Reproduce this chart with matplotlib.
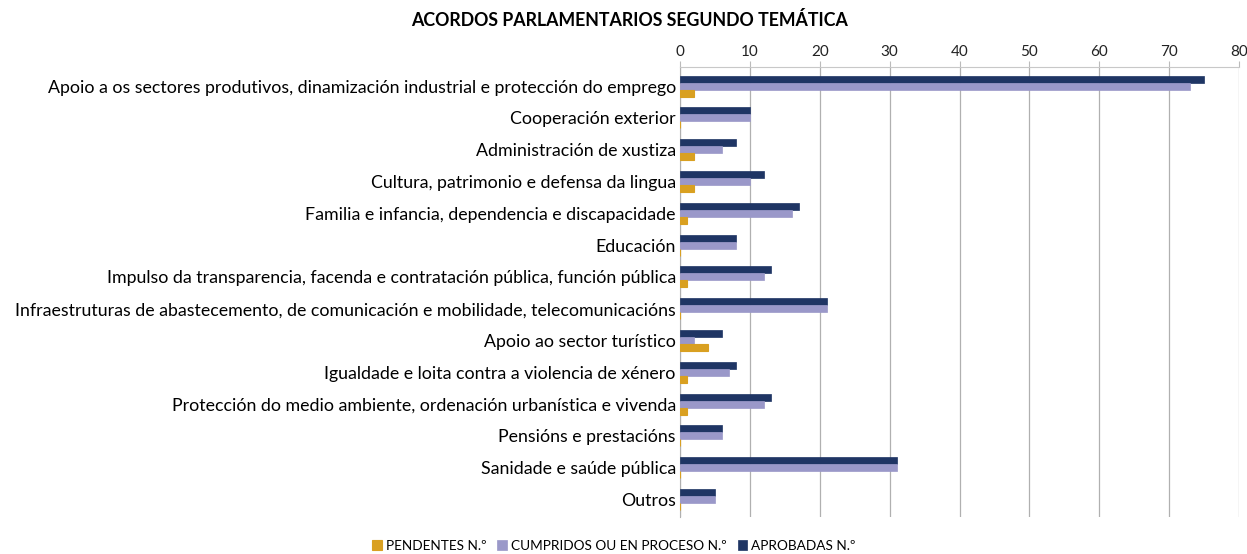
import matplotlib
matplotlib.use("Agg")
import matplotlib.pyplot as plt
import numpy as np

plt.rcParams['font.family'] = ['Lato', 'DejaVu Sans']

categories = [
    "Apoio a os sectores produtivos, dinamización industrial e protección do emprego",
    "Cooperación exterior",
    "Administración de xustiza",
    "Cultura, patrimonio e defensa da lingua",
    "Familia e infancia, dependencia e discapacidade",
    "Educación",
    "Impulso da transparencia, facenda e contratación pública, función pública",
    "Infraestruturas de abastecemento, de comunicación e mobilidade, telecomunicacións",
    "Apoio ao sector turístico",
    "Igualdade e loita contra a violencia de xénero",
    "Protección do medio ambiente, ordenación urbanística e vivenda",
    "Pensións e prestacións",
    "Sanidade e saúde pública",
    "Outros",
]
aprobadas = [75, 10, 8, 12, 17, 8, 13, 21, 6, 8, 13, 6, 31, 5]
cumpridos = [73, 10, 6, 10, 16, 8, 12, 21, 2, 7, 12, 6, 31, 5]
pendentes = [2, 0, 2, 2, 1, 0, 1, 0, 4, 1, 1, 0, 0, 0]

C_APR = "#1f3564"
C_CUMP = "#9a98c9"
C_PEND = "#d9a021"

fig = plt.figure(figsize=(12.47, 5.54), dpi=100)
ax = fig.add_axes([680 / 1247, 1 - 517 / 554, (1239 - 680) / 1247, (517 - 67) / 554])

y = np.arange(len(categories))
h = 0.22
ax.barh(y - h, aprobadas, height=h, color=C_APR, edgecolor=C_APR, linewidth=0.5, label="APROBADAS N.º", zorder=3)
ax.barh(y, cumpridos, height=h, color=C_CUMP, edgecolor=C_CUMP, linewidth=0.5, label="CUMPRIDOS OU EN PROCESO N.º", zorder=3)
ax.barh(y + h, pendentes, height=h, color=C_PEND, edgecolor=C_PEND, linewidth=0.8, label="PENDENTES N.º", zorder=3)

ax.set_xlim(0, 80)
ax.set_ylim(len(categories) - 0.45, -0.6)
ax.set_xticks(range(0, 81, 10))
ax.xaxis.tick_top()
ax.tick_params(axis="x", length=4, color="#bbbbbb", labelsize=11, pad=2, labelcolor="#222222")
ax.set_yticks(y)
ax.set_yticklabels(categories, fontsize=12.8)
ax.tick_params(axis="y", length=0, pad=3)
ax.grid(axis="x", color="#b0b0b0", linewidth=0.9, zorder=0)
for s in ["right", "bottom"]:
    ax.spines[s].set_visible(False)
ax.spines["top"].set_color("#c8c8c8")
ax.spines["left"].set_color("#b0b0b0")

fig.text(630 / 1247, 1 - 20 / 554, "ACORDOS PARLAMENTARIOS SEGUNDO TEMÁTICA",
         ha="center", va="center", fontsize=12.8, fontweight="bold")

handles, labels = ax.get_legend_handles_labels()
fig.legend(handles[::-1], labels[::-1], loc="center", bbox_to_anchor=(614 / 1247, 1 - 546 / 554),
           ncol=3, frameon=False, fontsize=9.8, handlelength=0.7, handleheight=0.7,
           handletextpad=0.3, columnspacing=0.8)

fig.savefig("out.png", dpi=100)
